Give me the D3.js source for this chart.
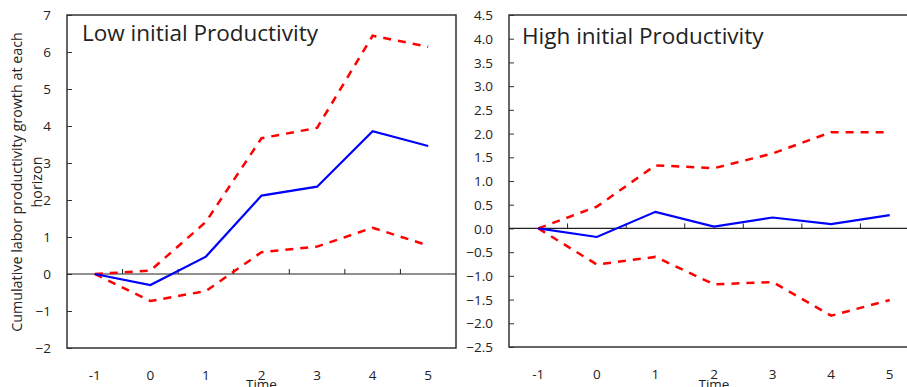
<!DOCTYPE html>
<html><head><meta charset="utf-8">
<script src="https://cdn.jsdelivr.net/npm/d3@7"></script>
<style>body{margin:0;background:#fff}svg{display:block}text{font-family:"Open Sans","Noto Sans",sans-serif;fill:#222}</style>
</head><body>
<svg id="c" width="907" height="387"></svg>
<script>
const categories = ["-1","0","1","2","3","4","5"];
const lowEstimate = [0,-0.30,0.47,2.12,2.36,3.86,3.46];
const lowUpper = [0,0.09,1.41,3.67,3.95,6.44,6.14];
const lowLower = [0,-0.73,-0.46,0.59,0.74,1.25,0.77];
const highEstimate = [0,-0.18,0.35,0.04,0.23,0.09,0.28];
const highUpper = [0,0.46,1.33,1.27,1.58,2.03,2.03];
const highLower = [0,-0.76,-0.60,-1.18,-1.13,-1.84,-1.51];
const lowTicks = [-2,-1,0,1,2,3,4,5,6,7];
const highTicks = [-2.5,-2.0,-1.5,-1.0,-0.5,0.0,0.5,1.0,1.5,2.0,2.5,3.0,3.5,4.0,4.5];

const svg = d3.select("#c");

function panel(o){
  const g = svg.append("g");
  const x = d3.scaleBand().domain(categories).range([o.left,o.right]);
  const y = d3.scaleLinear().domain(o.domain).range([o.bottom,o.top]);
  const cx = c => x(c)+x.bandwidth()/2;
  g.append("rect").attr("x",o.left).attr("y",o.top).attr("width",o.right-o.left).attr("height",o.bottom-o.top)
    .attr("fill","none").attr("stroke","#333").attr("stroke-width",1.5);
  const ya = g.append("g").attr("transform",`translate(${o.left},0)`)
    .call(d3.axisRight(y).tickValues(o.ticks).tickSize(5).tickFormat(o.fmt));
  ya.select(".domain").remove();
  ya.selectAll("line").attr("stroke","#333");
  ya.selectAll("text").attr("x",-16).attr("text-anchor","end").attr("font-size",13.5).attr("dy","0.34em");
  g.append("line").attr("x1",o.left).attr("x2",o.right).attr("y1",y(0)).attr("y2",y(0)).attr("stroke","#222").attr("stroke-width",1.2);
  g.selectAll(".bt").data(categories.slice(1)).enter().append("line")
    .attr("x1",d=>x(d)).attr("x2",d=>x(d)).attr("y1",y(0)).attr("y2",y(0)-5).attr("stroke","#222");
  g.selectAll(".xl").data(categories).enter().append("text")
    .attr("x",d=>cx(d)).attr("y",o.xlabY).attr("text-anchor","middle").attr("font-size",13.5).text(d=>d);
  g.append("text").attr("x",cx("2")).attr("y",389).attr("text-anchor","middle").attr("font-size",13.5).text("Time");
  g.append("text").attr("x",o.titleX).attr("y",o.titleY).attr("font-size",22.5).text(o.title);
  const line = d3.line().x((d,i)=>cx(categories[i])).y(d=>y(d));
  g.append("path").datum(o.upper).attr("d",line).attr("fill","none").attr("stroke","#ff0000").attr("stroke-width",2.5).attr("stroke-dasharray","8,7");
  g.append("path").datum(o.lower).attr("d",line).attr("fill","none").attr("stroke","#ff0000").attr("stroke-width",2.5).attr("stroke-dasharray","8,7");
  g.append("path").datum(o.est).attr("d",line).attr("fill","none").attr("stroke","#0000ff").attr("stroke-width",2.2);
}

panel({left:67,right:456,top:15,bottom:348,domain:[-2,7],ticks:lowTicks,fmt:d3.format("d"),
  est:lowEstimate,upper:lowUpper,lower:lowLower,title:"Low initial Productivity",titleX:82,titleY:41,xlabY:380});
panel({left:509,right:919,top:15,bottom:347,domain:[-2.5,4.5],ticks:highTicks,fmt:d3.format(".1f"),
  est:highEstimate,upper:highUpper,lower:highLower,title:"High initial Productivity",titleX:522,titleY:44,xlabY:379});

const yt = svg.append("text").attr("transform","translate(22,182) rotate(-90)").attr("text-anchor","middle").attr("font-size",14.3);
yt.append("tspan").attr("x",0).attr("dy",0).text("Cumulative  labor productivity growth at each");
yt.append("tspan").attr("x",0).attr("dy",20).text("horizon");
</script>
</body></html>
